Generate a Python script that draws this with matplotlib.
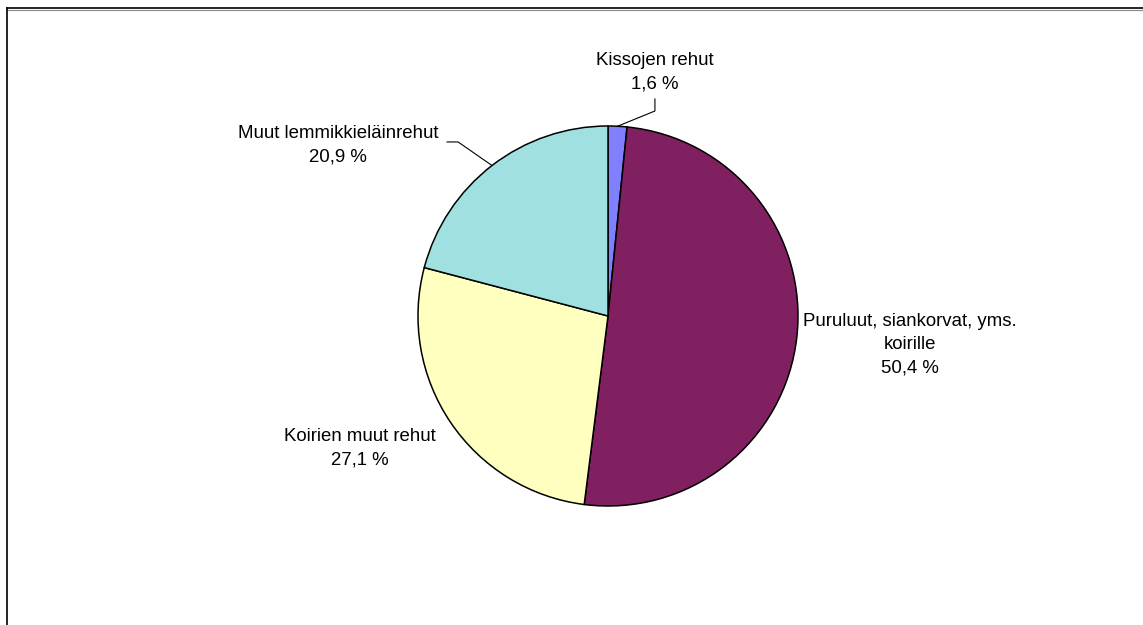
import numpy as np
import matplotlib
matplotlib.use("Agg")
import matplotlib.pyplot as plt
from matplotlib.lines import Line2D

# Data
labels = ["Kissojen rehut", "Puruluut, siankorvat, yms.\nkoirille",
          "Koirien muut rehut", "Muut lemmikkieläinrehut"]
values = [1.6, 50.4, 27.1, 20.9]
colors = ["#8080FF", "#802060", "#FFFFC0", "#A0E0E0"]

plt.rcParams["font.family"] = ["Liberation Sans", "DejaVu Sans"]

W, H = 1143, 625
fig = plt.figure(figsize=(W / 100, H / 100), dpi=100)

# pie axes: centre (608, 316) px, radius 190 px
cx, cy, r = 608, 316, 190
ax = fig.add_axes([(cx - r) / W, (H - cy - r) / H, 2 * r / W, 2 * r / H])
ax.pie(values, colors=colors, startangle=90, counterclock=False,
       wedgeprops=dict(edgecolor="black", linewidth=1.1))
ax.set_xlim(-1, 1)
ax.set_ylim(-1, 1)
ax.set_aspect("equal")
ax.axis("off")

def fmt(v):
    return f"{v:.1f}".replace(".", ",") + " %"

# label positions (data units, radius = 1)
label_pos = [(0.247, 1.285), (1.589, -0.15), (-1.305, -0.695), (-1.421, 0.9)]
for lab, v, (x, y) in zip(labels, values, label_pos):
    ax.text(x, y, lab + "\n" + fmt(v), ha="center", va="center",
            fontsize=13.4, linespacing=1.5, clip_on=False)

# leader lines
cum = np.cumsum([0] + values)
def mid_edge(i):
    a = np.deg2rad(90 - 360 * (cum[i] + values[i] / 2) / 100)
    return np.cos(a), np.sin(a)

x0, y0 = mid_edge(0)
ax.plot([x0, 0.247, 0.247], [y0, 1.079, 1.142], color="black", lw=0.8, clip_on=False)
x3, y3 = mid_edge(3)
ax.plot([x3, -0.789, -0.847], [y3, 0.916, 0.916], color="black", lw=0.8, clip_on=False)

# outer frame (top and left edges visible)
fig.add_artist(Line2D([7 / W, 1], [1 - 9.5 / H, 1 - 9.5 / H], color="#888888", lw=0.8))
fig.add_artist(Line2D([7 / W, 1], [1 - 8.2 / H, 1 - 8.2 / H], color="black", lw=1.2))
fig.add_artist(Line2D([7 / W, 7 / W], [0, 1 - 8.2 / H], color="black", lw=1.2))

fig.savefig("out.png", dpi=100, facecolor="white")
